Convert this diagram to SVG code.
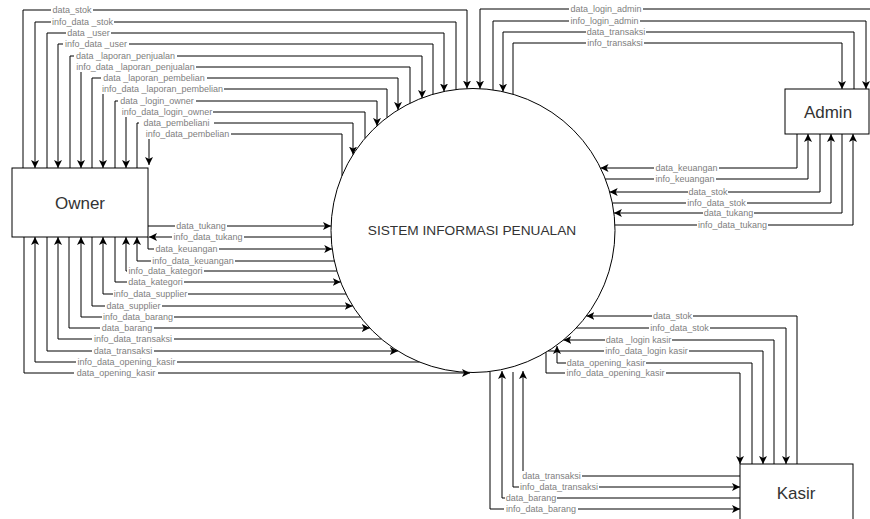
<svg xmlns="http://www.w3.org/2000/svg" width="870" height="519" viewBox="0 0 870 519">
<style>
.node{fill:#fff;stroke:#000;stroke-width:1}
.ntext{font-family:"Liberation Sans",Arial,sans-serif;font-size:17px;fill:#333;text-anchor:middle;dominant-baseline:central}
.e{fill:none;stroke:#000;stroke-width:1}
.a{marker-end:url(#arr)}
.lb rect{fill:#fff}
.lb text{font-family:"Liberation Sans",Arial,sans-serif;font-size:9px;fill:#808080;text-anchor:middle}
</style>
<defs>
<marker id="arr" viewBox="0 0 10 10" refX="10" refY="5" markerWidth="8" markerHeight="8" markerUnits="userSpaceOnUse" orient="auto">
<path d="M0,0 L10,5 L0,10 L2.5,5 z" fill="#000"/>
</marker>
</defs>
<rect width="870" height="519" fill="#fff"/>
<g id="system"><circle class="node" cx="473" cy="230.5" r="142"/><text class="ntext" x="472" y="230" style="font-size:13.7px">SISTEM INFORMASI PENUALAN</text></g>
<g id="owner"><rect class="node" x="12" y="168" width="136" height="69"/><text class="ntext" x="80" y="203">Owner</text></g>
<g id="admin"><rect class="node" x="785" y="89" width="84" height="45"/><text class="ntext" x="828" y="112">Admin</text></g>
<g id="kasir"><rect class="node" x="740" y="464" width="113" height="60"/><text class="ntext" x="796" y="493">Kasir</text></g>
<g id="connectors">
<path class="e a" d="M23,168 V10 H467 V88.6"/>
<path class="e a" d="M456,89.5 V22 H35 V168"/>
<path class="e a" d="M47,168 V33 H444 V91.5"/>
<path class="e a" d="M433,94.3 V44 H58 V168"/>
<path class="e a" d="M70,168 V56 H422 V98"/>
<path class="e a" d="M410,103.2 V67 H81 V168"/>
<path class="e a" d="M92,168 V78 H398 V109.9"/>
<path class="e a" d="M387,117.5 V89 H103 V168"/>
<path class="e a" d="M115,168 V101 H377 V125.9"/>
<path class="e a" d="M365,138.3 V112 H126 V168"/>
<path class="e a" d="M137,168 V123 H353 V154.6"/>
<path class="e a" d="M342,175.7 V134 H149 V165"/>
<path class="e a" d="M148,226 H331"/>
<path class="e a" d="M331.2,237 H149"/>
<path class="e a" d="M148,237 V249 H332.2"/>
<path class="e a" d="M334.3,261 H137 V237"/>
<path class="e a" d="M336.9,271 H126 V237"/>
<path class="e a" d="M115,237 V282 H340.7"/>
<path class="e a" d="M346,294 H103 V237"/>
<path class="e a" d="M92,237 V306 H352.7"/>
<path class="e a" d="M360.4,317 H81 V237"/>
<path class="e a" d="M69,237 V328 H369.8"/>
<path class="e a" d="M381.4,339 H58 V237"/>
<path class="e a" d="M47,237 V351 H397.9"/>
<path class="e a" d="M419.4,362 H35 V237"/>
<path class="e a" d="M24,237 V373 H470"/>
<path class="e a" d="M880,100 V9 H480 V88.7"/>
<path class="e a" d="M493,89.9 V21 H866 V89"/>
<path class="e a" d="M854,89 V32 H503 V91.7"/>
<path class="e a" d="M513,94.3 V43 H842 V89"/>
<path class="e a" d="M797,134 V168 H600.5"/>
<path class="e a" d="M605.3,179 H808 V134"/>
<path class="e a" d="M820,134 V192 H609.7"/>
<path class="e a" d="M612.3,203 H831 V134"/>
<path class="e a" d="M842,134 V213 H613.9"/>
<path class="e a" d="M614.9,225 H853 V134"/>
<path class="e a" d="M797,464 V316 H586.4"/>
<path class="e a" d="M576.2,328 H786 V464"/>
<path class="e a" d="M774,464 V340 H563.4"/>
<path class="e a" d="M548.1,351 H763 V464"/>
<path class="e a" d="M752,464 V363 H557 V346"/>
<path class="e a" d="M546,352.3 V373 H740 V464"/>
<path class="e a" d="M740,476 H523 V371"/>
<path class="e a" d="M513,372 V487 H740"/>
<path class="e a" d="M740,498 H502 V371"/>
<path class="e a" d="M490,372 V509 H740"/>
</g>
<g id="edge-labels" class="lb">
<rect x="51" y="5" width="42" height="10"/><text x="72" y="13.2">data_stok</text>
<rect x="51" y="17" width="63" height="10"/><text x="82.5" y="25.2">info_data _stok</text>
<rect x="66" y="28" width="45" height="10"/><text x="88.5" y="36.2">data _user</text>
<rect x="63" y="39" width="66" height="10"/><text x="96" y="47.2">info_data _user</text>
<rect x="74" y="51" width="103" height="10"/><text x="125.5" y="59.2">data _laporan_penjualan</text>
<rect x="75" y="62" width="121" height="10"/><text x="135.5" y="70.2">info_data _laporan_penjualan</text>
<rect x="101" y="73" width="106" height="10"/><text x="154" y="81.2">data _laporan_pembelian</text>
<rect x="101" y="84" width="123" height="10"/><text x="162.5" y="92.2">info_data _laporan_pembelian</text>
<rect x="118" y="96" width="78" height="10"/><text x="157" y="104.2">data _login_owner</text>
<rect x="121" y="107" width="92" height="10"/><text x="167" y="115.2">info_data_login_owner</text>
<rect x="139" y="118" width="75" height="10"/><text x="176.5" y="126.2">data_pembeliani</text>
<rect x="144" y="129" width="87" height="10"/><text x="187.5" y="137.2">info_data_pembelian</text>
<rect x="175" y="221" width="52" height="10"/><text x="201" y="229.2">data_tukang</text>
<rect x="172" y="232" width="72" height="10"/><text x="208" y="240.2">info_data_tukang</text>
<rect x="154" y="244" width="65" height="10"/><text x="186.5" y="252.2">data_keuangan</text>
<rect x="151" y="256" width="84" height="10"/><text x="193" y="264.2">info_data_keuangan</text>
<rect x="127" y="266" width="77" height="10"/><text x="165.5" y="274.2">info_data_kategori</text>
<rect x="127" y="277" width="57" height="10"/><text x="155.5" y="285.2">data_kategori</text>
<rect x="113" y="289" width="75" height="10"/><text x="150.5" y="297.2">info_data_supplier</text>
<rect x="105" y="301" width="57" height="10"/><text x="133.5" y="309.2">data_supplier</text>
<rect x="102" y="312" width="72" height="10"/><text x="138" y="320.2">info_data_barang</text>
<rect x="100" y="323" width="54" height="10"/><text x="127" y="331.2">data_barang</text>
<rect x="92" y="334" width="82" height="10"/><text x="133" y="342.2">info_data_transaksi</text>
<rect x="92" y="346" width="62" height="10"/><text x="123" y="354.2">data_transaksi</text>
<rect x="76" y="357" width="101" height="10"/><text x="126.5" y="365.2">info_data_opening_kasir</text>
<rect x="74" y="368" width="84" height="10"/><text x="116" y="376.2">data_opening_kasir</text>
<rect x="569" y="4" width="74" height="10"/><text x="606" y="12.2">data_login_admin</text>
<rect x="569" y="16" width="71" height="10"/><text x="604.5" y="24.2">info_login_admin</text>
<rect x="586" y="27" width="60" height="10"/><text x="616" y="35.2">data_transaksi</text>
<rect x="586" y="38" width="58" height="10"/><text x="615" y="46.2">info_transaksi</text>
<rect x="654" y="163" width="65" height="10"/><text x="686.5" y="171.2">data_keuangan</text>
<rect x="654" y="174" width="62" height="10"/><text x="685" y="182.2">info_keuangan</text>
<rect x="688" y="187" width="40" height="10"/><text x="708" y="195.2">data_stok</text>
<rect x="686" y="198" width="61" height="10"/><text x="716.5" y="206.2">info_data_stok</text>
<rect x="703" y="208" width="51" height="10"/><text x="728.5" y="216.2">data_tukang</text>
<rect x="697" y="220" width="71" height="10"/><text x="732.5" y="228.2">info_data_tukang</text>
<rect x="652" y="311" width="41" height="10"/><text x="672.5" y="319.2">data_stok</text>
<rect x="649" y="323" width="61" height="10"/><text x="679.5" y="331.2">info_data_stok</text>
<rect x="605" y="335" width="67" height="10"/><text x="638.5" y="343.2">data _login kasir</text>
<rect x="604" y="346" width="85" height="10"/><text x="646.5" y="354.2">info_data_login kasir</text>
<rect x="566" y="358" width="80" height="10"/><text x="606" y="366.2">data_opening_kasir</text>
<rect x="565" y="368" width="101" height="10"/><text x="615.5" y="376.2">info_data_opening_kasir</text>
<rect x="521" y="471" width="61" height="10"/><text x="551.5" y="479.2">data_transaksi</text>
<rect x="519" y="482" width="80" height="10"/><text x="559" y="490.2">info_data_transaksi</text>
<rect x="505" y="493" width="52" height="10"/><text x="531" y="501.2">data_barang</text>
<rect x="504" y="504" width="74" height="10"/><text x="541" y="512.2">info_data_barang</text>
</g>
</svg>
